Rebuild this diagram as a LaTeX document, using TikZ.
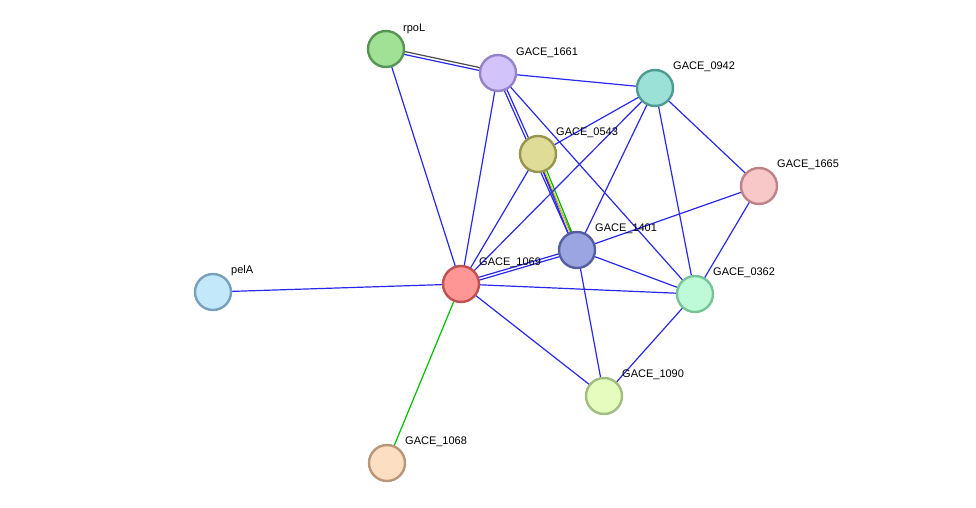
\documentclass[tikz,border=0pt]{standalone}
\usepackage{fontspec}
\setmainfont{Liberation Sans}
\usetikzlibrary{positioning}
\definecolor{edgeBlue}{RGB}{40,40,240}
\definecolor{fRpoL}{RGB}{160,225,150}\definecolor{dRpoL}{RGB}{85,150,85}
\definecolor{f1661}{RGB}{210,195,250}\definecolor{d1661}{RGB}{150,130,200}
\definecolor{f0942}{RGB}{155,225,215}\definecolor{d0942}{RGB}{80,155,145}
\definecolor{f0543}{RGB}{222,220,150}\definecolor{d0543}{RGB}{150,150,80}
\definecolor{f1665}{RGB}{248,200,200}\definecolor{d1665}{RGB}{190,130,135}
\definecolor{f1401}{RGB}{155,165,225}\definecolor{d1401}{RGB}{85,95,160}
\definecolor{f1069}{RGB}{255,150,150}\definecolor{d1069}{RGB}{190,80,80}
\definecolor{fPelA}{RGB}{195,232,250}\definecolor{dPelA}{RGB}{120,160,190}
\definecolor{f0362}{RGB}{190,250,215}\definecolor{d0362}{RGB}{120,195,150}
\definecolor{f1090}{RGB}{230,252,190}\definecolor{d1090}{RGB}{160,190,130}
\definecolor{f1068}{RGB}{252,222,195}\definecolor{d1068}{RGB}{185,150,120}
\tikzset{
  prot/.style={circle,minimum size=36pt,inner sep=0pt,line width=2.4pt},
  lab/.style={font=\fontsize{11}{12}\selectfont,anchor=south west,inner sep=1pt},
  ebl/.style={edgeBlue,line width=1.2pt},
}
\begin{document}
\begin{tikzpicture}[x=1pt,y=-1pt]
  \useasboundingbox (0,0) rectangle (976,508);
  % proteins
  \coordinate (pRpoL) at (386,49);
  \coordinate (p1661) at (498,73);
  \coordinate (p0942) at (655,88);
  \coordinate (p0543) at (538,154);
  \coordinate (p1665) at (759,186);
  \coordinate (p1401) at (577,250);
  \coordinate (p1069) at (461,284);
  \coordinate (pPelA) at (213,292);
  \coordinate (p0362) at (695,294);
  \coordinate (p1090) at (604,396);
  \coordinate (p1068) at (387,463);

  % edges
  \draw[ebl,transform canvas={yshift=-1.5pt}] (pRpoL) -- (p1661);
  \draw[black!70,line width=1.2pt,transform canvas={yshift=1.5pt}] (pRpoL) -- (p1661);
  \draw[ebl,transform canvas={xshift=-1.5pt}] (p1661) -- (p1401);
  \draw[ebl,transform canvas={xshift=1.5pt}] (p1661) -- (p1401);
  \draw[ebl,transform canvas={xshift=-2pt}] (p0543) -- (p1401);
  \draw[green!70!black,line width=1.2pt,transform canvas={xshift=2pt}] (p0543) -- (p1401);
  \draw[yellow!70!olive,line width=1.2pt] (p0543) -- (p1401);
  \draw[ebl,transform canvas={yshift=-1.5pt}] (p1069) -- (p1401);
  \draw[ebl,transform canvas={yshift=1.5pt}] (p1069) -- (p1401);
  \foreach \a/\b in {pRpoL/p1069,p1661/p0942,p1661/p1069,p1661/p0362,
      p0942/p0543,p0942/p1069,p0942/p1401,p0942/p1665,p0942/p0362,
      p0543/p1069,p1665/p1401,p1665/p0362,p1401/p0362,p1401/p1090,
      p1069/pPelA,p1069/p0362,p1069/p1090,p0362/p1090}
    \draw[ebl] (\a) -- (\b);
  \draw[green!75!black,line width=1.2pt] (p1069) -- (p1068);

  % nodes
  \node[prot,draw=dRpoL,fill=fRpoL] (rpoL) at (pRpoL) {};
  \node[prot,draw=d1661,fill=f1661] (g1661) at (p1661) {};
  \node[prot,draw=d0942,fill=f0942] (g0942) at (p0942) {};
  \node[prot,draw=d0543,fill=f0543] (g0543) at (p0543) {};
  \node[prot,draw=d1665,fill=f1665] (g1665) at (p1665) {};
  \node[prot,draw=d1401,fill=f1401] (g1401) at (p1401) {};
  \node[prot,draw=d1069,fill=f1069] (g1069) at (p1069) {};
  \node[prot,draw=dPelA,fill=fPelA] (pelA) at (pPelA) {};
  \node[prot,draw=d0362,fill=f0362] (g0362) at (p0362) {};
  \node[prot,draw=d1090,fill=f1090] (g1090) at (p1090) {};
  \node[prot,draw=d1068,fill=f1068] (g1068) at (p1068) {};

  % labels
  \node[lab] at (402,35) {rpoL};
  \node[lab] at (515,59) {GACE\_1661};
  \node[lab] at (672,73) {GACE\_0942};
  \node[lab] at (555,139) {GACE\_0543};
  \node[lab] at (776,171) {GACE\_1665};
  \node[lab] at (594,235) {GACE\_1401};
  \node[lab] at (478,269) {GACE\_1069};
  \node[lab] at (230,277) {pelA};
  \node[lab] at (712,279) {GACE\_0362};
  \node[lab] at (621,381) {GACE\_1090};
  \node[lab] at (404,448) {GACE\_1068};
\end{tikzpicture}
\end{document}
